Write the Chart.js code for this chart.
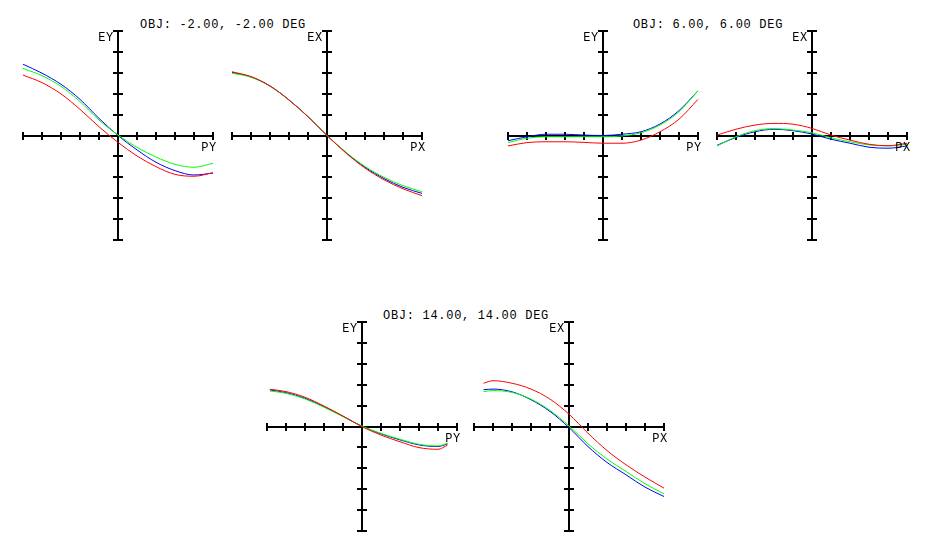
<!DOCTYPE html>
<html>
<head>
<meta charset="utf-8">
<script src="https://cdn.jsdelivr.net/npm/chart.js@4.4.1/dist/chart.umd.min.js"></script>
<style>
  body { margin: 0; background: #fff; }
  #wrap { position: relative; width: 945px; height: 555px; overflow: hidden; background: #fff; }
  canvas { position: absolute; }
  .title {
    position: absolute; font: 12px "Liberation Mono"; letter-spacing: 0.7px;
    line-height: 12px; white-space: nowrap; transform: translateX(-50%); color: #000;
  }
</style>
</head>
<body>
<div id="wrap">
  <div class="title" style="left:223px;top:19px">OBJ: -2.00, -2.00 DEG</div>
  <div class="title" style="left:708px;top:19px">OBJ: 6.00, 6.00 DEG</div>
  <div class="title" style="left:466px;top:310px">OBJ: 14.00, 14.00 DEG</div>
  <canvas id="c1"></canvas>
  <canvas id="c2"></canvas>
  <canvas id="c3"></canvas>
  <canvas id="c4"></canvas>
  <canvas id="c5"></canvas>
  <canvas id="c6"></canvas>
</div>
<script>
// pupil coordinates
const pupil = [-1, -0.8, -0.6, -0.4, -0.2, 0, 0.2, 0.4, 0.6, 0.8, 1];
const pupil14y = [-0.97, -0.8, -0.6, -0.4, -0.2, 0, 0.2, 0.4, 0.6, 0.8, 0.9];
const pupil14x = [-0.9, -0.8, -0.6, -0.4, -0.2, 0, 0.2, 0.4, 0.6, 0.8, 1];

// tick positions (no tick labels on this plot)
const xTicks = [-1, -0.8, -0.6, -0.4, -0.2, 0, 0.2, 0.4, 0.6, 0.8, 1];
const yTicks = [-5, -4, -3, -2, -1, 0, 1, 2, 3, 4, 5];

// OBJ -2, -2 : tangential (EY)
const ey2Red   = [2.89, 2.53, 1.99, 1.25, 0.42, -0.33, -0.98, -1.49, -1.86, -1.95, -1.78];
const ey2Green = [3.21, 2.86, 2.35, 1.62, 0.74, 0.02, -0.57, -1.03, -1.38, -1.52, -1.33];
const ey2Blue  = [3.41, 2.98, 2.45, 1.73, 0.82, 0, -0.69, -1.28, -1.68, -1.89, -1.80];
// OBJ -2, -2 : sagittal (EX)
const ex2Red   = [3.05, 2.82, 2.37, 1.70, 0.90, 0, -0.84, -1.56, -2.12, -2.55, -2.88];
const ex2Green = [2.98, 2.79, 2.36, 1.70, 0.90, 0, -0.80, -1.48, -2.00, -2.40, -2.69];
const ex2Blue  = [3.02, 2.80, 2.37, 1.70, 0.90, 0, -0.82, -1.52, -2.06, -2.48, -2.77];

// OBJ 6, 6 : EY
const ey6Red   = [-0.50, -0.34, -0.30, -0.30, -0.33, -0.37, -0.37, -0.22, 0.18, 0.78, 1.73];
const ey6Green = [-0.34, -0.13, -0.06, -0.06, -0.06, -0.06, -0.02, 0.13, 0.50, 1.14, 2.14];
const ey6Blue  = [-0.25, -0.06, 0.06, 0.06, 0.02, 0, 0.06, 0.18, 0.55, 1.19, 2.14];
// OBJ 6, 6 : EX
const ex6Red   = [0.02, 0.30, 0.50, 0.58, 0.54, 0.34, 0.02, -0.22, -0.42, -0.49, -0.37];
const ex6Green = [-0.50, -0.06, 0.23, 0.33, 0.26, 0.13, -0.11, -0.30, -0.45, -0.50, -0.42];
const ex6Blue  = [-0.47, -0.09, 0.18, 0.30, 0.23, 0.07, -0.18, -0.37, -0.56, -0.61, -0.50];

// OBJ 14, 14 : EY
const ey14Red   = [1.78, 1.67, 1.40, 0.98, 0.50, -0.01, -0.41, -0.73, -1.01, -1.09, -0.89];
const ey14Green = [1.70, 1.59, 1.32, 0.92, 0.47, 0.02, -0.33, -0.61, -0.85, -0.93, -0.80];
const ey14Blue  = [1.75, 1.62, 1.35, 0.95, 0.49, 0.01, -0.35, -0.64, -0.88, -0.96, -0.83];
// OBJ 14, 14 : EX
const ex14Red   = [2.07, 2.19, 2.07, 1.79, 1.31, 0.59, -0.32, -1.15, -1.83, -2.42, -2.95];
const ex14Green = [1.67, 1.72, 1.63, 1.31, 0.77, 0.03, -0.83, -1.56, -2.15, -2.74, -3.22];
const ex14Blue  = [1.76, 1.79, 1.66, 1.28, 0.72, -0.05, -0.96, -1.72, -2.31, -2.90, -3.35];

const PAD = 10;
const plots = [
  { id: "c1", left: 23,  top: 31,  v: "EY", h: "PY", px: pupil,    r: ey2Red,  g: ey2Green,  b: ey2Blue },
  { id: "c2", left: 232, top: 31,  v: "EX", h: "PX", px: pupil,    r: ex2Red,  g: ex2Green,  b: ex2Blue },
  { id: "c3", left: 508, top: 31,  v: "EY", h: "PY", px: pupil,    r: ey6Red,  g: ey6Green,  b: ey6Blue },
  { id: "c4", left: 717, top: 31,  v: "EX", h: "PX", px: pupil,    r: ex6Red,  g: ex6Green,  b: ex6Blue },
  { id: "c5", left: 267, top: 322, v: "EY", h: "PY", px: pupil14y, r: ey14Red, g: ey14Green, b: ey14Blue },
  { id: "c6", left: 474, top: 322, v: "EX", h: "PX", px: pupil14x, r: ex14Red, g: ex14Green, b: ex14Blue }
];
const plotW = 190, plotH = 209;

const crossAxes = {
  id: "crossAxes",
  beforeDatasetsDraw(chart) {
    const ctx = chart.ctx;
    const xs = chart.scales.x, ys = chart.scales.y;
    const ox = Math.round(xs.getPixelForValue(0));
    const oy = Math.round(ys.getPixelForValue(0));
    ctx.save();
    ctx.strokeStyle = "#000";
    ctx.lineWidth = 2;
    ctx.beginPath();
    ctx.moveTo(Math.round(xs.left), oy);
    ctx.lineTo(Math.round(xs.right), oy);
    xTicks.forEach(t => {
      const p = Math.round(xs.getPixelForValue(t));
      ctx.moveTo(p, oy - 4);
      ctx.lineTo(p, oy + 4);
    });
    ctx.moveTo(ox, Math.round(ys.top));
    ctx.lineTo(ox, Math.round(ys.bottom));
    yTicks.forEach(t => {
      const p = Math.round(ys.getPixelForValue(t));
      ctx.moveTo(ox - 5, p);
      ctx.lineTo(ox + 5, p);
    });
    ctx.stroke();
    ctx.restore();
  },
  afterDraw(chart, args, opts) {
    const ctx = chart.ctx;
    const xs = chart.scales.x, ys = chart.scales.y;
    const ox = Math.round(xs.getPixelForValue(0));
    const oy = Math.round(ys.getPixelForValue(0));
    ctx.save();
    ctx.fillStyle = "#000";
    ctx.font = '12px "Liberation Mono"';
    ctx.letterSpacing = "0.7px";
    ctx.textBaseline = "alphabetic";
    ctx.textAlign = "left";
    let w = ctx.measureText(opts.v).width;
    ctx.fillText(opts.v, ox - 4 - w, Math.round(ys.top) + 10);
    w = ctx.measureText(opts.h).width;
    ctx.fillText(opts.h, Math.round(xs.right) + 4 - w, oy + 15);
    ctx.restore();
  }
};

plots.forEach(p => {
  const cv = document.getElementById(p.id);
  cv.width = plotW + 2 * PAD;
  cv.height = plotH + 2 * PAD;
  cv.style.left = (p.left - PAD) + "px";
  cv.style.top = (p.top - PAD) + "px";
  const pts = arr => arr.map((y, i) => ({ x: p.px[i], y: y }));
  const line = (arr, color) => ({
    data: pts(arr),
    borderColor: color,
    borderWidth: 1,
    pointRadius: 0,
    showLine: true,
    cubicInterpolationMode: "monotone",
    fill: false
  });
  new Chart(cv.getContext("2d"), {
    type: "scatter",
    data: {
      datasets: [line(p.r, "#ff0000"), line(p.g, "#00ff00"), line(p.b, "#0000ff")]
    },
    options: {
      responsive: false,
      animation: false,
      devicePixelRatio: 1,
      layout: { padding: PAD },
      plugins: {
        legend: { display: false },
        tooltip: { enabled: false },
        crossAxes: { v: p.v, h: p.h }
      },
      scales: {
        x: { type: "linear", min: -1, max: 1, display: false },
        y: { type: "linear", min: -5, max: 5, display: false }
      }
    },
    plugins: [crossAxes]
  });
});
</script>
</body>
</html>
